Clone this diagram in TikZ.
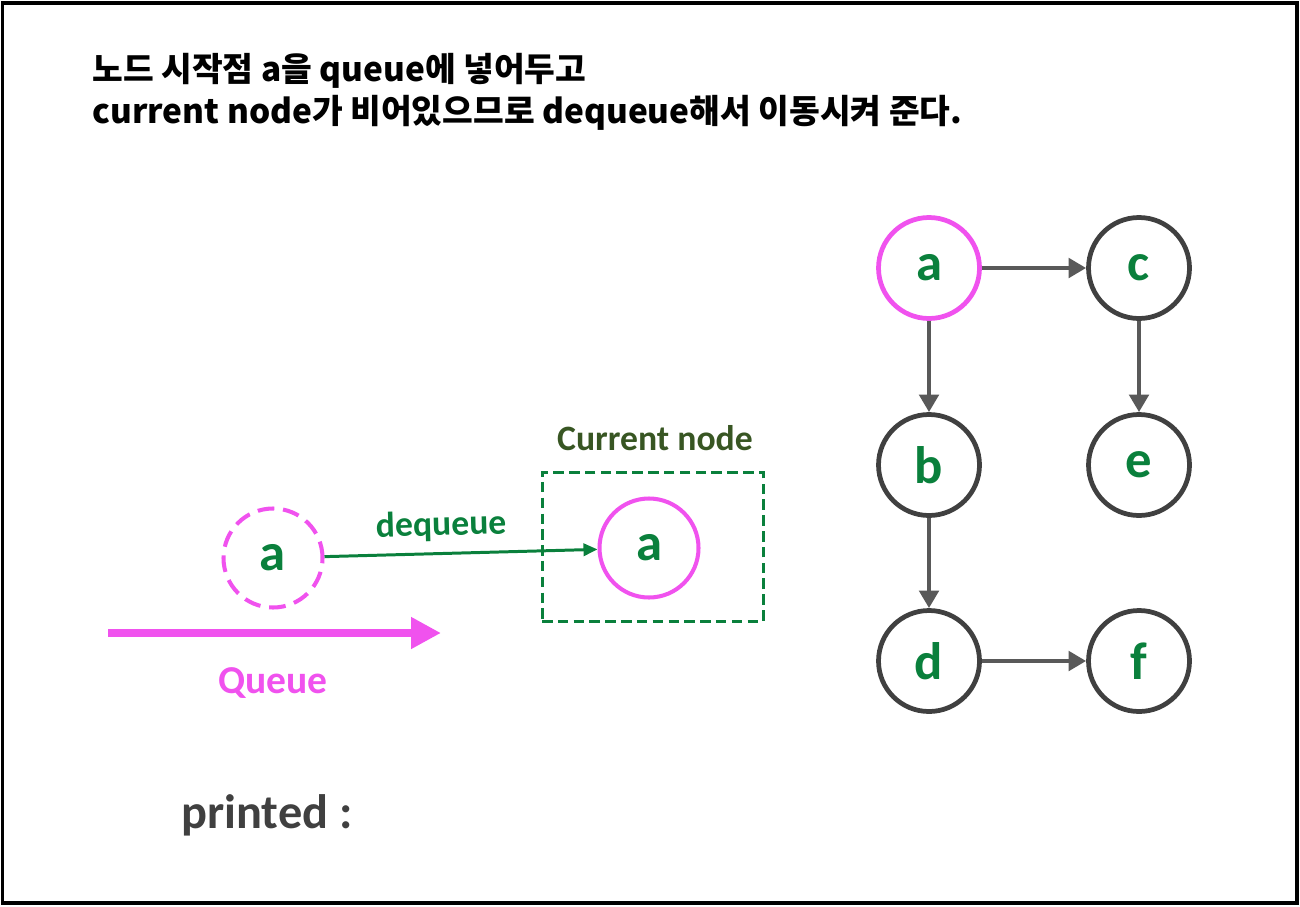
\documentclass[tikz,border=0pt]{standalone}
\usepackage{fontspec}
\setmainfont{Carlito}
\newfontfamily\kr{Noto Sans CJK KR}
\usetikzlibrary{arrows.meta}
\definecolor{pinkq}{RGB}{240,82,238}
\definecolor{grn}{RGB}{10,128,60}
\definecolor{dgrn}{RGB}{56,86,35}
\definecolor{garrow}{RGB}{89,89,89}
\definecolor{gcirc}{RGB}{64,64,64}
\newlength{\pxu}
\setlength{\pxu}{0.02cm}
\tikzset{
  gnode/.style={circle, draw=gcirc, line width=2.7pt, minimum size=101\pxu, inner sep=0pt,
    text=grn, font=\bfseries\fontsize{30}{30}\selectfont},
  anode/.style={gnode, draw=pinkq},
  qnode/.style={circle, draw=pinkq, line width=2.3pt, minimum size=99\pxu, inner sep=0pt,
    text=grn, font=\bfseries\fontsize{30}{30}\selectfont},
  garr/.style={draw=garrow, line width=2.4pt, -{Triangle[length=10pt,width=11pt]}},
  hdr/.style={anchor=base west, inner sep=0pt, font=\kr\bfseries\fontsize{19}{19}\selectfont},
}
\begin{document}
\begin{tikzpicture}[x=0.02cm,y=-0.02cm]
\useasboundingbox (0,0) rectangle (1300,906);
\draw[line width=1.8pt] (2.5,3) rectangle (1297,903);
% header
\node[hdr] (h1) at (92,81) {노드 시작점 a을 queue에 넣어두고};
\node[hdr] (h2) at (92,123) {current node가 비어있으므로 dequeue해서 이동시켜 준다.};
% graph
\node[anode] (a) at (929,268) {a};
\node[gnode] (c) at (1139,268) {c};
\node[gnode] (b) at (929,465) {b};
\node[gnode] (e) at (1139,465) {e};
\node[gnode] (d) at (929,661) {d};
\node[gnode] (f) at (1139,661) {f};
\draw[garr] (a) -- (c);
\draw[garr] (a) -- (b);
\draw[garr] (c) -- (e);
\draw[garr] (b) -- (d);
\draw[garr] (d) -- (f);
% queue part
\node[qnode, dash pattern=on 9.5pt off 5pt] (qa) at (273,558) {a};
\node[qnode] (ca) at (649,548) {a};
\node[draw=grn, line width=1.7pt, dash pattern=on 6pt off 3pt, minimum width=221\pxu, minimum height=149\pxu, inner sep=0pt] (box) at (652.5,546.5) {};
\node[text=dgrn, font=\bfseries\fontsize{20.3}{20.3}\selectfont] (cn) at (655,438) {Current node};
\draw[grn, line width=1.7pt, -{Triangle[length=8pt,width=7pt]}] (qa) -- node[pos=0.43, above=3pt, sloped, font=\bfseries\fontsize{20.3}{20.3}\selectfont, text=grn] (dq) {dequeue} (ca);
\coordinate (qs) at (108,633);
\coordinate (qe) at (441,633);
\draw[pinkq, line width=5pt, -{Triangle[length=17pt,width=17pt]}] (qs) -- (qe);
\node[text=pinkq, font=\bfseries\fontsize{22.5}{22.5}\selectfont] (ql) at (273,683) {Queue};
\node[text=gcirc, font=\bfseries\fontsize{27.5}{27.5}\selectfont] (pr) at (267,815) {printed :};
\end{tikzpicture}
\end{document}
